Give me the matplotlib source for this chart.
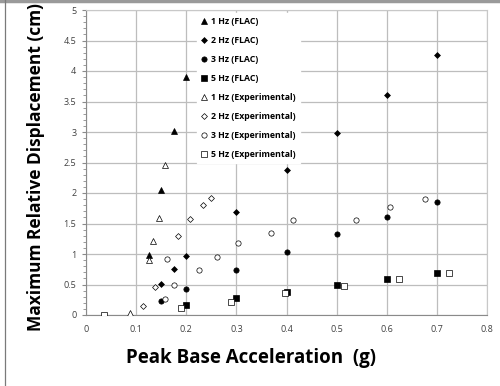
import matplotlib
matplotlib.use("Agg")
from matplotlib import pyplot as plt
from matplotlib.lines import Line2D
from matplotlib.ticker import MultipleLocator

# FLAC results (numerical model)
flac_1hz_x = [0.125, 0.15, 0.175, 0.2]
flac_1hz_y = [0.99, 2.05, 3.02, 3.90]
flac_2hz_x = [0.15, 0.175, 0.2, 0.3, 0.4, 0.5, 0.6, 0.7]
flac_2hz_y = [0.51, 0.75, 0.97, 1.69, 2.37, 2.98, 3.60, 4.27]
flac_3hz_x = [0.15, 0.2, 0.3, 0.4, 0.5, 0.6, 0.7]
flac_3hz_y = [0.235, 0.43, 0.74, 1.04, 1.33, 1.60, 1.86]
flac_5hz_x = [0.2, 0.3, 0.4, 0.5, 0.6, 0.7]
flac_5hz_y = [0.16, 0.28, 0.37, 0.49, 0.59, 0.69]

# experimental results
exp_1hz_x = [0.087, 0.126, 0.133, 0.146, 0.158]
exp_1hz_y = [0.04, 0.90, 1.21, 1.59, 2.46]
exp_2hz_x = [0.114, 0.138, 0.184, 0.208, 0.233, 0.25]
exp_2hz_y = [0.14, 0.46, 1.30, 1.57, 1.80, 1.92]
exp_3hz_x = [0.158, 0.175, 0.162, 0.226, 0.261, 0.303, 0.37, 0.412, 0.539, 0.606, 0.677]
exp_3hz_y = [0.27, 0.50, 0.92, 0.73, 0.95, 1.18, 1.35, 1.56, 1.56, 1.77, 1.90]
exp_5hz_x = [0.035, 0.19, 0.289, 0.397, 0.515, 0.625, 0.725]
exp_5hz_y = [0.0, 0.11, 0.22, 0.36, 0.47, 0.59, 0.69]

series = [
    ("1 Hz (FLAC)", flac_1hz_x, flac_1hz_y, "^", True),
    ("2 Hz (FLAC)", flac_2hz_x, flac_2hz_y, "D", True),
    ("3 Hz (FLAC)", flac_3hz_x, flac_3hz_y, "o", True),
    ("5 Hz (FLAC)", flac_5hz_x, flac_5hz_y, "s", True),
    ("1 Hz (Experimental)", exp_1hz_x, exp_1hz_y, "^", False),
    ("2 Hz (Experimental)", exp_2hz_x, exp_2hz_y, "D", False),
    ("3 Hz (Experimental)", exp_3hz_x, exp_3hz_y, "o", False),
    ("5 Hz (Experimental)", exp_5hz_x, exp_5hz_y, "s", False),
]
sizes = {"^": 4.2, "D": 3.0, "o": 3.8, "s": 4.0}

plt.rcParams["font.family"] = ["Open Sans", "DejaVu Sans"]

fig = plt.figure(figsize=(5.0, 3.86), dpi=100)
ax = fig.add_axes([86 / 500, 71 / 386, 401 / 500, 305 / 386])

for label, x, y, m, filled in series:
    ax.plot(x, y, linestyle="none", marker=m, markersize=sizes[m],
            markerfacecolor="black" if filled else "white",
            markeredgecolor="black", markeredgewidth=0.5,
            label=label, zorder=3)

ax.set_xlim(0, 0.8)
ax.set_ylim(0, 5)
ax.xaxis.set_major_locator(MultipleLocator(0.1))
ax.yaxis.set_major_locator(MultipleLocator(0.5))
ax.yaxis.set_minor_locator(MultipleLocator(0.1))
ax.xaxis.set_major_formatter(plt.FuncFormatter(lambda v, p: f"{v:g}"))
ax.yaxis.set_major_formatter(plt.FuncFormatter(lambda v, p: f"{v:g}"))
ax.grid(True, color="#bdbdbd", linewidth=0.9)
ax.set_axisbelow(True)
for side in ("top", "right"):
    ax.spines[side].set_color("#c8c8c8")
for side in ("left", "bottom"):
    ax.spines[side].set_color("#8a8a8a")
ax.tick_params(axis="both", labelsize=6.5, colors="#8a8a8a", labelcolor="#404040",
               length=3, width=0.8, pad=4)
ax.tick_params(axis="y", which="minor", length=2, colors="#8a8a8a")
ax.tick_params(axis="x", length=0, pad=7)

fig.text(251 / 500, 1 - 358 / 386, "Peak Base Acceleration  (g)", fontsize=13.5,
         fontweight="bold", ha="center", va="center")
fig.text(36 / 500, 1 - 167 / 386, "Maximum Relative Displacement (cm)", fontsize=12.5,
         fontweight="bold", ha="center", va="center", rotation=90)

leg = ax.legend(loc="upper left", bbox_to_anchor=((197 - 86) / 401, 1 - 3 / 305),
                frameon=True, fancybox=False, edgecolor="white", facecolor="white",
                framealpha=1, prop={"weight": "bold", "size": 6.3},
                handlelength=0.6, handletextpad=0.45, labelspacing=1.13,
                borderpad=0.5, borderaxespad=0)
leg.set_zorder(2.5)

# outer chart border (partly visible in the source picture)
fig.add_artist(Line2D([0, 1], [0.998, 0.998], color="#9a9a9a", linewidth=2.5))
fig.add_artist(Line2D([4.5 / 500, 4.5 / 500], [0, 1], color="#7a7a7a", linewidth=0.9))

fig.savefig("out.png", dpi=100)
